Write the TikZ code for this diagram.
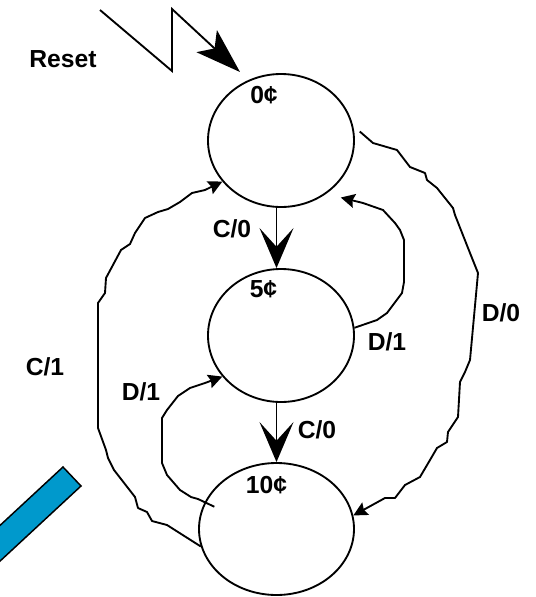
\documentclass[tikz,border=0pt]{standalone}
\usepackage{fontspec}
\setmainfont{Liberation Sans}
\usetikzlibrary{shapes.geometric,arrows.meta,calc}
\definecolor{barblue}{HTML}{0099CC}
\begin{document}
\begin{tikzpicture}[x=0.75pt,y=-0.75pt,
  state/.style={draw,ellipse,line width=1.4pt,inner sep=0pt},
  lbl/.style={font=\fontsize{18.5}{22}\selectfont\bfseries,inner sep=0pt,anchor=base},
  wire/.style={line width=1.4pt,line join=round},
  bigtip/.style={-{Stealth[length=30pt,width=25.5pt,inset=14pt]}},
  smalltip/.style={-{Stealth[length=10.5pt,width=10.5pt,inset=1.5pt]}},
  resettip/.style={-{Stealth[length=34pt,width=22.5pt,inset=8pt]}},
]
\useasboundingbox (0,0) rectangle (536,597);
\begin{scope}
\clip (0,0) rectangle (536,597);
\filldraw[fill=barblue,draw=black,line width=1.1pt] (63,467) -- (81,486) -- (-29,588) -- (-47,569) -- cycle;
\end{scope}
% states
\node[state,minimum width=109.5pt,minimum height=99.75pt] (s0) at (281,140.5) {};
\node[state,minimum width=109.5pt,minimum height=99.75pt] (s5) at (281,335.5) {};
\node[state,minimum width=116.25pt,minimum height=99pt] (s10) at (276.5,529) {};
% texts
\node[lbl] (t0) at (264,103) {0¢};
\node[lbl] (t5) at (263.5,297) {5¢};
\node[lbl] (t10) at (266.5,493) {10¢};
\node[lbl] (treset) at (63,67) {Reset};
\node[lbl] (lc0a) at (232,237) {C/0};
\node[lbl] (lc0b) at (317,438) {C/0};
\node[lbl] (ld1a) at (387,350) {D/1};
\node[lbl] (ld0) at (501,321) {D/0};
\node[lbl] (lc1) at (45,375) {C/1};
\node[lbl] (ld1b) at (141,400) {D/1};
% reset arrow
\coordinate (rs) at (100,10);
\coordinate (rtip) at (240,72);
\draw[wire,line join=miter,resettip] (rs) -- (172,71) -- (172,9) -- (rtip);
% C/0 arrows
\draw[wire,bigtip] (s0.south -| s10.north) -- (s5.north -| s10.north);
\draw[wire,bigtip] (s5.south -| s10.north) -- (s10.north);
% C/1
\draw[wire,smalltip] (s10.193) -- (167,525) -- (152,521) -- (147,512) -- (138,508) -- (135,497) -- (114,470) -- (108,458) -- (106,450) -- (98,428) -- (98,303) -- (105,293) -- (106,278) -- (121,250) -- (130,244) -- (135,233) -- (145,218) -- (158,212) -- (168,209) -- (180,202) -- (192,193) -- (205,190) -- (s0.215);
% D/1 left
\draw[wire,smalltip] ([shift={(10,4)}]s10.160) -- (198,499) -- (191,497) -- (180,490) -- (167,475) -- (162,463) -- (162,418) -- (167,410) -- (178,396) -- (190,388) -- (205,383) -- (s5.215);
% D/1 right
\draw[wire,smalltip] (s5.6) -- (377,320) -- (387,313) -- (402,293) -- (404,282) -- (404,240) -- (400,230) -- (395,223) -- (383,210) -- (363,203) -- ([shift={(9,8)}]s0.-44);
% D/0
\draw[wire,smalltip] ([shift={(5.5,0)}]s0.7) -- (373,143) -- (397,150) -- (410,167) -- (425,173) -- (427,180) -- (437,188) -- (453,208) -- (455,215) -- (470,253) -- (478,273) -- (470,360) -- (465,372) -- (460,382) -- (458,417) -- (448,432) -- (447,442) -- (437,448) -- (430,460) -- (420,477) -- (405,485) -- (395,498) -- (385,498) -- (s10.10);
\end{tikzpicture}
\end{document}
